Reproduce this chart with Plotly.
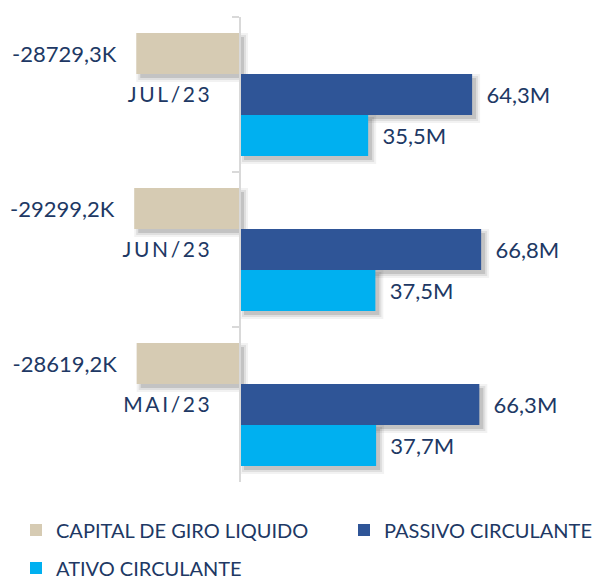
import plotly.graph_objects as go

# Monthly working-capital figures
months = ["JUL/23", "JUN/23", "MAI/23"]
capital_giro_k = [-28729.3, -29299.2, -28619.2]   # thousands
passivo_circulante_m = [64.3, 66.8, 66.3]          # millions
ativo_circulante_m = [35.5, 37.5, 37.7]            # millions

TAN = "#D6CBB3"
DARK_BLUE = "#2F5597"
LIGHT_BLUE = "#00B0F0"
NAVY = "#203864"
AXIS_GREY = "#D9D9D9"
FONT = "Lato"
NB = "\u00a0"

W, H = 598, 581
TOP, BOTTOM = 17, 482
BAND_PX = (BOTTOM - TOP) / 3
PX_PER_M = 3.61
ZERO_PX = 240
BAR_W = 0.265           # bar thickness in category units


def fmt(v, unit):
    return f"{v:.1f}".replace(".", ",") + unit


# letter-spaced category labels
month_labels = ["\u2009".join(m) for m in months]
capital_m = [v / 1000 for v in capital_giro_k]

series = [
    ("CAPITAL DE GIRO LIQUIDO", capital_m,
     [fmt(v, "K") + NB * 3 for v in capital_giro_k], TAN, "legend", -1.5 * BAR_W),
    ("PASSIVO CIRCULANTE", passivo_circulante_m,
     [NB * 2 + fmt(v, "M") for v in passivo_circulante_m], DARK_BLUE, "legend2", -0.5 * BAR_W),
    ("ATIVO CIRCULANTE", ativo_circulante_m,
     [NB * 2 + fmt(v, "M") for v in ativo_circulante_m], LIGHT_BLUE, "legend3", 0.5 * BAR_W),
]

fig = go.Figure()

# soft drop shadow: a few translucent copies shifted right/down, each a bit larger
SHIFT_PX = 4
for name, xs, _, _, _, off in series:
    for grow_px, alpha in [(4, 0.05), (2, 0.08), (0, 0.12)]:
        dx = SHIFT_PX / PX_PER_M
        g = grow_px / PX_PER_M
        bases = [dx - g if v >= 0 else dx + g for v in xs]
        lengths = [v + 2 * g if v >= 0 else v - 2 * g for v in xs]
        fig.add_trace(go.Bar(
            y=month_labels,
            x=lengths,
            base=bases,
            orientation="h",
            width=BAR_W + 2 * grow_px / BAND_PX,
            offset=off + (SHIFT_PX - grow_px) / BAND_PX,
            marker=dict(color=f"rgba(0,0,0,{alpha})", line=dict(width=0)),
            showlegend=False,
            hoverinfo="skip",
        ))

for name, xs, texts, color, leg, off in series:
    fig.add_trace(go.Bar(
        name=name,
        y=month_labels,
        x=xs,
        orientation="h",
        width=BAR_W,
        offset=off,
        marker=dict(color=color, line=dict(width=0)),
        text=texts,
        textposition="outside",
        textfont=dict(family=FONT, size=22, color=NAVY),
        cliponaxis=False,
        constraintext="none",
        legend=leg,
        showlegend=True,
        hoverinfo="skip",
    ))

legend_common = dict(
    orientation="h",
    xref="container",
    yref="container",
    xanchor="left",
    yanchor="middle",
    bgcolor="rgba(0,0,0,0)",
    font=dict(family=FONT, size=20, color=NAVY),
    visible=True,
)

fig.update_layout(
    width=W,
    height=H,
    margin=dict(l=0, r=0, t=TOP, b=H - BOTTOM, pad=0, autoexpand=False),
    paper_bgcolor="white",
    plot_bgcolor="white",
    barmode="overlay",
    font=dict(family=FONT, color=NAVY),
    xaxis=dict(
        range=[-ZERO_PX / PX_PER_M, (W - ZERO_PX) / PX_PER_M],
        visible=False,
        fixedrange=True,
    ),
    yaxis=dict(
        type="category",
        categoryorder="array",
        categoryarray=month_labels,
        range=[2.5, -0.5],
        anchor="free",
        position=ZERO_PX / W,
        showline=True,
        linecolor=AXIS_GREY,
        linewidth=2,
        ticks="outside",
        tickson="boundaries",
        ticklen=7,
        tickwidth=2,
        tickcolor=AXIS_GREY,
        ticklabelstandoff=25,
        tickfont=dict(family=FONT, size=21, color=NAVY),
        showgrid=False,
        zeroline=False,
        fixedrange=True,
    ),
    legend=dict(x=16 / W, y=1 - 530 / H, **legend_common),
    legend2=dict(x=344 / W, y=1 - 530 / H, **legend_common),
    legend3=dict(x=16 / W, y=1 - 568 / H, **legend_common),
)

fig.write_html("out.html")
